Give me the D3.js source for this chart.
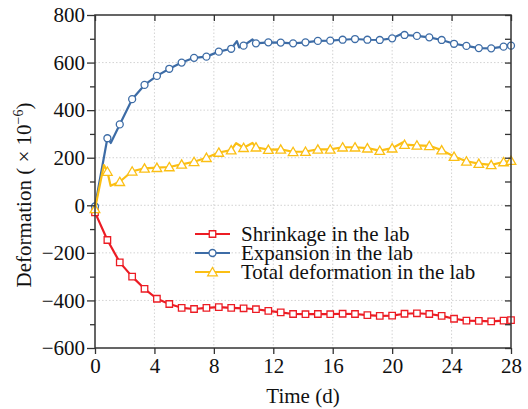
<!DOCTYPE html>
<html>
<head>
<meta charset="utf-8">
<script src="https://cdn.jsdelivr.net/npm/d3@7"></script>
<style>
  body { margin: 0; background: #fff; }
  text { font-family: "Liberation Serif", "Times New Roman", serif; fill: #111; }
</style>
</head>
<body>
<svg id="chart" width="528" height="409"></svg>
<script>
// marker times (days), one marker every 20 h, plus the last reading at 28 d
var times = [0, 0.833, 1.667, 2.5, 3.333, 4.167, 5, 5.833, 6.667, 7.5, 8.333, 9.167, 10, 10.833,
  11.667, 12.5, 13.333, 14.167, 15, 15.833, 16.667, 17.5, 18.333, 19.167, 20, 20.833, 21.667,
  22.5, 23.333, 24.167, 25, 25.833, 26.667, 27.5, 28];

var shrinkage = [-30, -146, -240, -300, -351, -393, -415, -431, -436, -431, -428, -431, -433, -437,
  -444, -450, -457, -458, -457, -458, -456, -457, -462, -465, -464, -456, -454, -457, -465,
  -477, -485, -486, -488, -485, -483];

var expansion = [-5, 282, 340, 446, 506, 544, 574, 600, 620, 625, 646, 658, 671, 681,
  685, 684, 681, 685, 691, 692, 696, 699, 696, 695, 702, 716, 712, 706, 695,
  679, 670, 661, 660, 667, 671];

var total = [-15, 142, 99, 143, 155, 158, 161, 172, 183, 200, 222, 232, 242, 244,
  234, 235, 225, 226, 235, 235, 244, 244, 240, 230, 240, 255, 252, 250, 232,
  205, 185, 175, 170, 182, 188];

// readings between markers (line only, no symbol)
var shrinkageExtra = [];
var expansionExtra = [[1.06, 262], [9.55, 690], [9.7, 664], [10.6, 697], [20.7, 722]];
var totalExtra = [[0.6, 169], [1.05, 82], [9.5, 261], [10.6, 262], [20.7, 264]];

var seriesNames = ["Shrinkage in the lab", "Expansion in the lab", "Total deformation in the lab"];
var seriesColors = ["#ec1c24", "#3d6ca6", "#fbbf14"];
var seriesSymbols = [d3.symbolSquare, d3.symbolCircle, d3.symbolTriangle];
var symbolSizes = [42, 38, 40];

var xTicks = [0, 4, 8, 12, 16, 20, 24, 28];
var yTicks = [-600, -400, -200, 0, 200, 400, 600, 800];

var svg = d3.select("#chart"),
    padL = 95, padR = 511, padT = 15, padB = 348;

var x = d3.scaleLinear().domain([0, 28]).range([padL, padR]);
var y = d3.scaleLinear().domain([-600, 800]).range([padB, padT]);

// dotted grid
var grid = svg.append("g").attr("stroke", "#c8c8c8").attr("stroke-width", 0.8).attr("stroke-dasharray", "1.5,2");
grid.selectAll(".gx").data(xTicks.slice(1, -1)).enter().append("line")
    .attr("x1", d => x(d)).attr("x2", d => x(d)).attr("y1", padT).attr("y2", padB);
grid.selectAll(".gy").data(yTicks.slice(1, -1)).enter().append("line")
    .attr("y1", d => y(d)).attr("y2", d => y(d)).attr("x1", padL).attr("x2", padR);

// series lines and markers
var allValues = [shrinkage, expansion, total];
var allExtras = [shrinkageExtra, expansionExtra, totalExtra];
var line = d3.line().x(d => x(d[0])).y(d => y(d[1]));

allValues.forEach(function (vals, i) {
  var pts = times.map((t, j) => [t, vals[j]]).concat(allExtras[i]).sort((a, b) => a[0] - b[0]);
  svg.append("path").datum(pts)
      .attr("fill", "none").attr("stroke", seriesColors[i]).attr("stroke-width", 2.2)
      .attr("stroke-linejoin", "round").attr("d", line);
  var sym = d3.symbol().type(seriesSymbols[i]).size(symbolSizes[i]);
  svg.append("g").selectAll("path").data(times.map((t, j) => [t, vals[j]])).enter().append("path")
      .attr("d", sym)
      .attr("transform", d => "translate(" + x(d[0]) + "," + (y(d[1]) + (i == 2 ? 1 : 0)) + ")")
      .attr("fill", "#fff").attr("stroke", seriesColors[i]).attr("stroke-width", 1.3);
});

// axes
var fmt = d3.format("d");
var axL = svg.append("g").attr("transform", "translate(" + padL + ",0)")
    .call(d3.axisLeft(y).tickValues(yTicks).tickSize(8).tickPadding(2).tickFormat(fmt));
var axB = svg.append("g").attr("transform", "translate(0," + padB + ")")
    .call(d3.axisBottom(x).tickValues(xTicks).tickSize(6).tickPadding(4).tickFormat(fmt));
var axR = svg.append("g").attr("transform", "translate(" + padR + ",0)")
    .call(d3.axisLeft(y).ticks(14).tickSize(6).tickFormat(""));
var axT = svg.append("g").attr("transform", "translate(0," + padT + ")")
    .call(d3.axisBottom(x).tickValues(xTicks).tickSize(6).tickFormat(""));
var minorL = svg.append("g").attr("transform", "translate(" + padL + ",0)")
    .call(d3.axisLeft(y).tickValues(d3.range(-500, 800, 200)).tickSize(5).tickFormat(""));

[axL, axB, axR, axT, minorL].forEach(function (g) {
  g.select(".domain").remove();
  g.selectAll("line").attr("stroke", "#333").attr("stroke-width", 1.3);
  g.selectAll("text").style("font-size", "21px").attr("fill", "#111")
    .style("font-family", '"Liberation Serif", serif');
});

svg.append("rect").attr("x", padL).attr("y", padT).attr("width", padR - padL).attr("height", padB - padT)
    .attr("fill", "none").attr("stroke", "#333").attr("stroke-width", 1.5);

// axis titles
svg.append("text").attr("x", (padL + padR) / 2).attr("y", 403).attr("text-anchor", "middle")
    .style("font-size", "21px").text("Time (d)");

var yl = svg.append("text").attr("transform", "translate(31,195) rotate(-90)")
    .attr("text-anchor", "middle").style("font-size", "21px");
yl.append("tspan").text("Deformation ( × 10");
yl.append("tspan").attr("dy", -8).style("font-size", "14px").text("−6");
yl.append("tspan").attr("dy", 8).text(")");

// legend
var legend = svg.append("g").attr("transform", "translate(195,234)");
seriesNames.forEach(function (name, i) {
  var g = legend.append("g").attr("transform", "translate(0," + (i * 19) + ")");
  g.append("line").attr("x1", 0).attr("x2", 35).attr("stroke", seriesColors[i]).attr("stroke-width", 2.2);
  g.append("path").attr("d", d3.symbol().type(seriesSymbols[i]).size(symbolSizes[i]))
      .attr("transform", "translate(17.5," + (i == 2 ? 1 : 0) + ")")
      .attr("fill", "#fff").attr("stroke", seriesColors[i]).attr("stroke-width", 1.3);
  g.append("text").attr("x", 46).attr("y", 7).style("font-size", "21px").text(name);
});
</script>
</body>
</html>
